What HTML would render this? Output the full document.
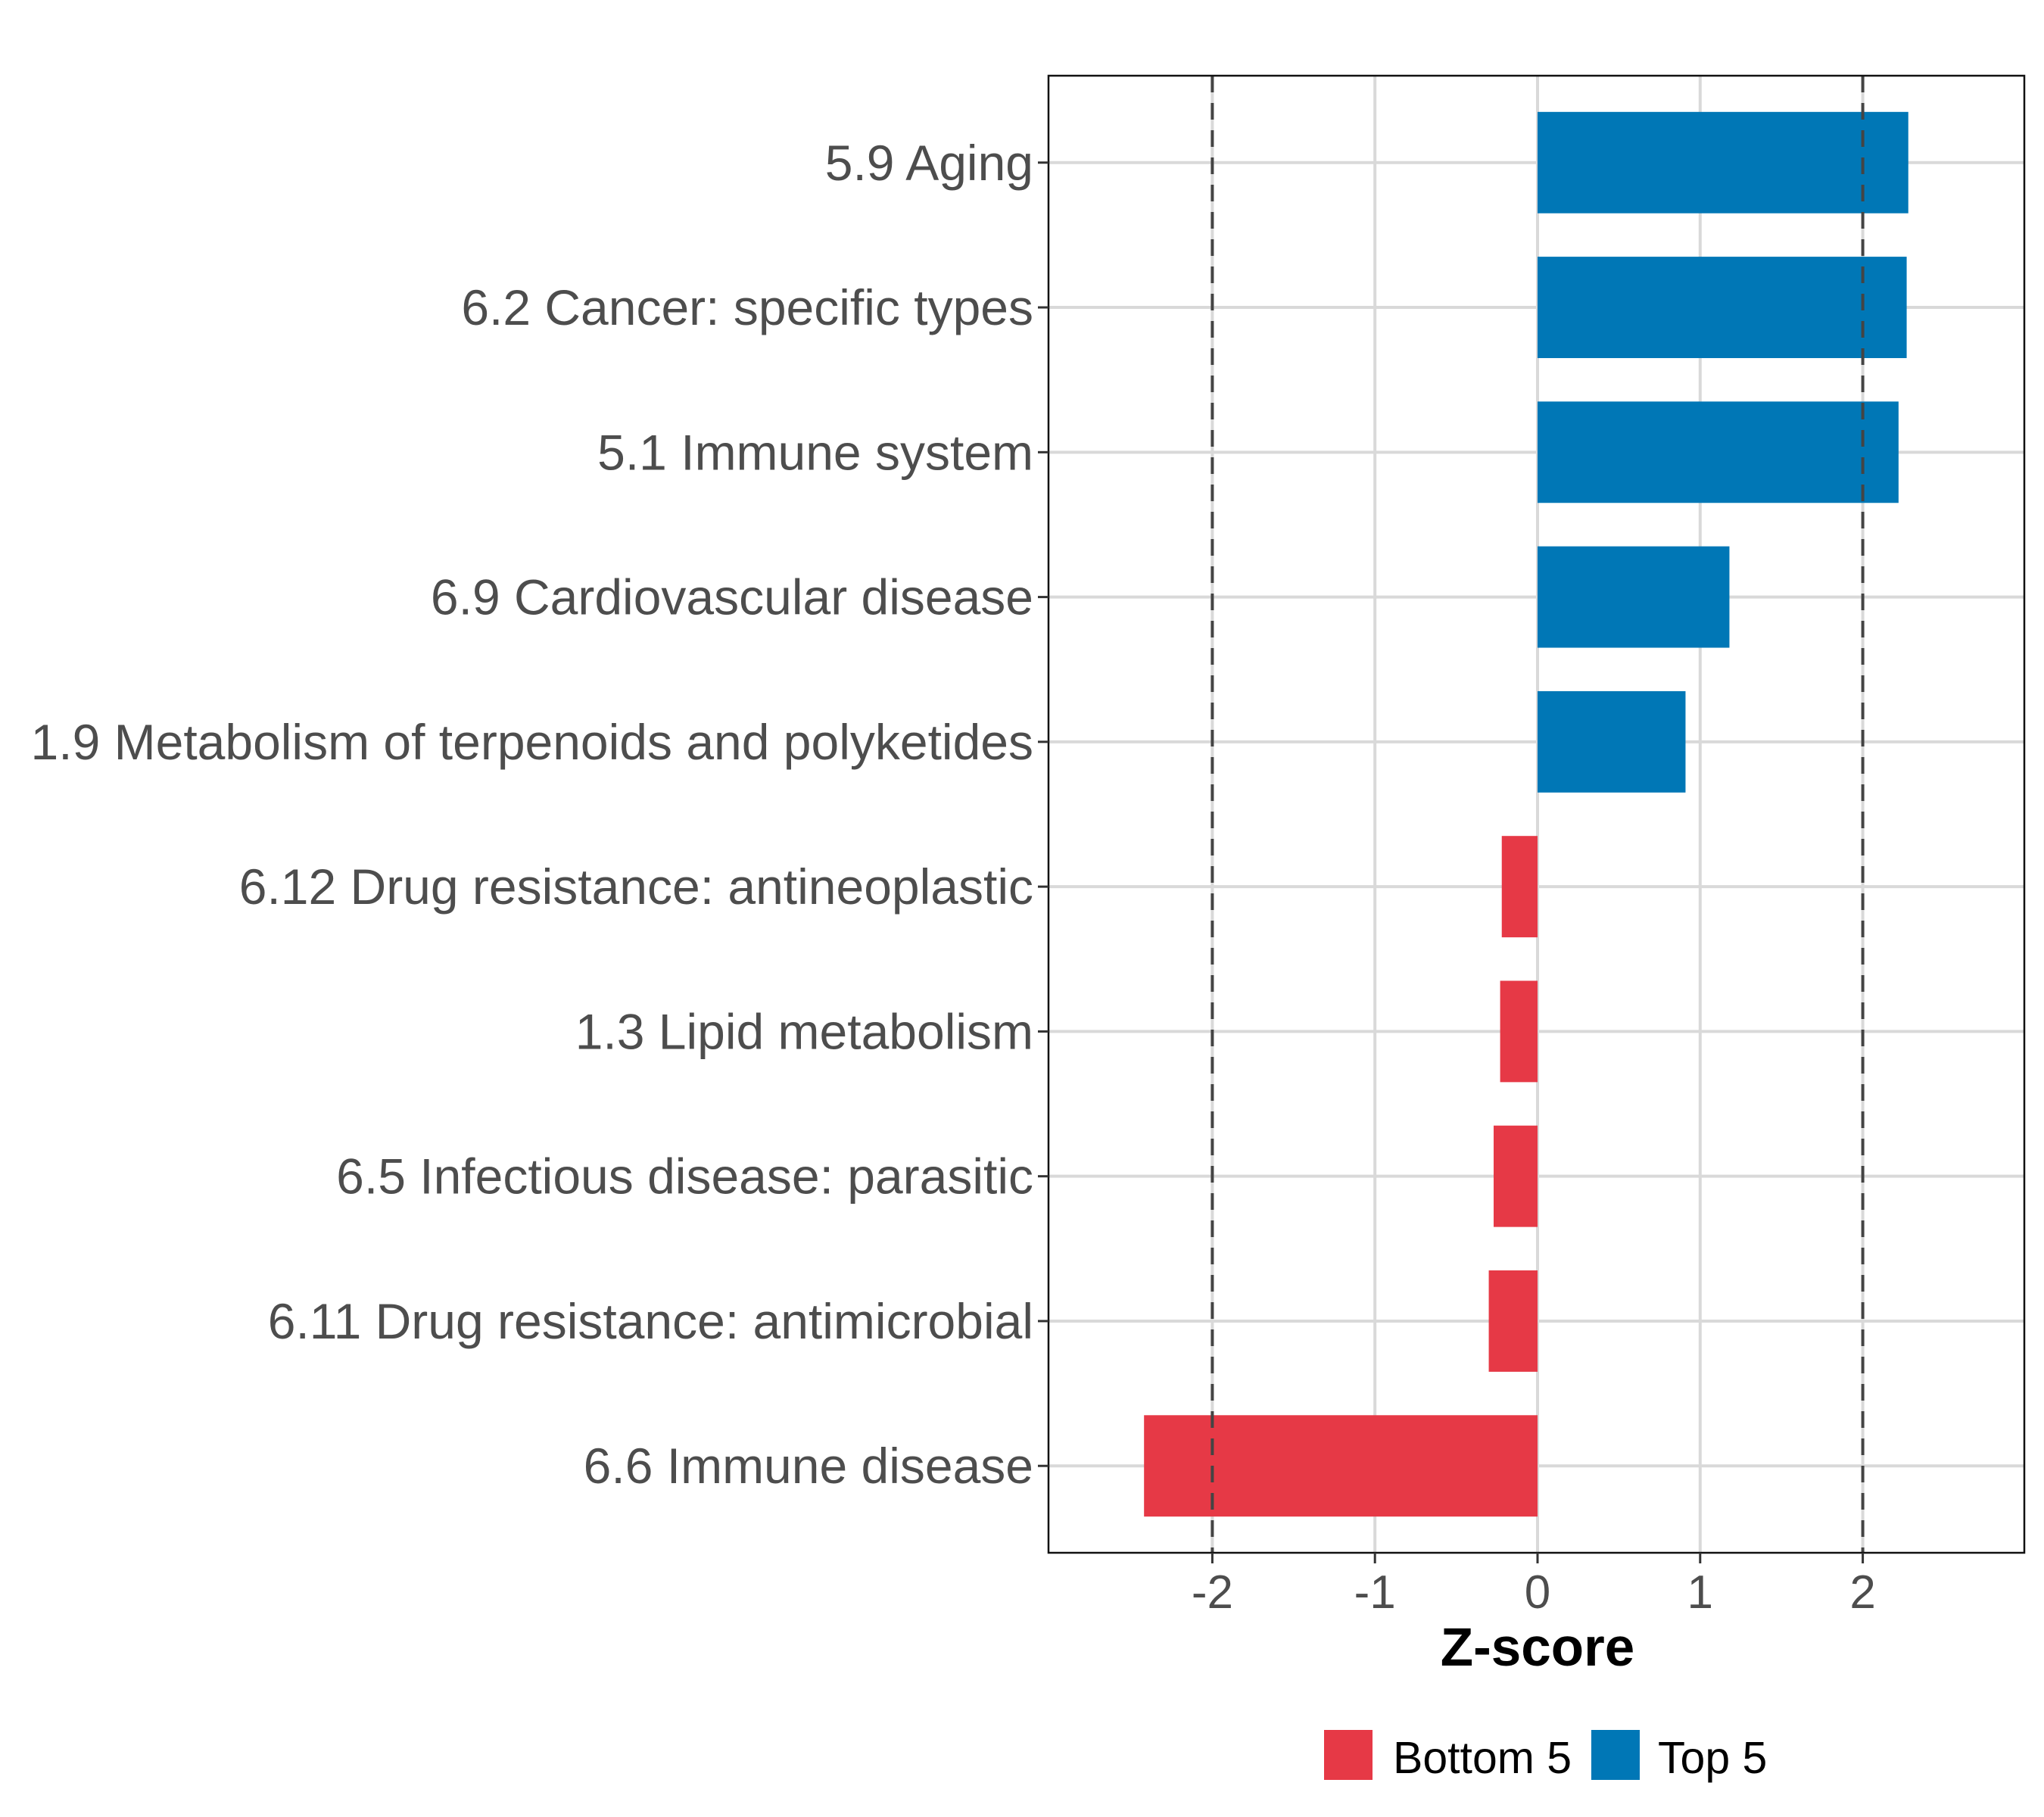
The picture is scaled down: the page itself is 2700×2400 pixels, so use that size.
<!DOCTYPE html>
<html><head><meta charset="utf-8"><style>
html,body{margin:0;padding:0;background:#fff;}
svg{display:block;font-family:"Liberation Sans",sans-serif;}
</style></head><body>
<svg id="chart" width="2700" height="2400" viewBox="0 0 2700 2400">
<g id="grid"></g>
<g id="bars"></g>
<g id="refs"></g>
<rect x="1385" y="100" width="1289" height="1951" fill="none" stroke="#111" stroke-width="2.5"/>
<g id="yaxis"></g>
<g id="xaxis"></g>
<text x="2031" y="2200" text-anchor="middle" font-size="71" font-weight="bold" fill="#000">Z-score</text>
<g>
<rect x="1749" y="2285" width="64" height="66" fill="#E63946"/>
<text x="1840" y="2342" font-size="59" fill="#000">Bottom 5</text>
<rect x="2102" y="2285" width="64" height="66" fill="#0077B6"/>
<text x="2190" y="2342" font-size="59" fill="#000">Top 5</text>
</g>
</svg>
<script>
const categories = ["5.9 Aging","6.2 Cancer: specific types","5.1 Immune system","6.9 Cardiovascular disease","1.9 Metabolism of terpenoids and polyketides","6.12 Drug resistance: antineoplastic","1.3 Lipid metabolism","6.5 Infectious disease: parasitic","6.11 Drug resistance: antimicrobial","6.6 Immune disease"];
const zscores = [2.28,2.27,2.22,1.18,0.91,-0.22,-0.23,-0.27,-0.30,-2.42];
const groups = ["Top 5","Top 5","Top 5","Top 5","Top 5","Bottom 5","Bottom 5","Bottom 5","Bottom 5","Bottom 5"];
const xTicks = [-2,-1,0,1,2];
const xTickLabels = ["-2","-1","0","1","2"];
const refLines = [-2,2];

const NS="http://www.w3.org/2000/svg";
const L=1385,R=2674,T=100,B=2051;
const x0=2031,unit=214.8;
function xs(v){return x0+v*unit;}
const step=(B-T)/(categories.length-1+1.2);
function ys(i){return T+step*0.6+i*step;}
const bh=step*0.7;
function mk(tag,attrs,parent){const e=document.createElementNS(NS,tag);for(const k in attrs)e.setAttribute(k,attrs[k]);parent.appendChild(e);return e;}
const grid=document.getElementById('grid'),bars=document.getElementById('bars'),refs=document.getElementById('refs'),ya=document.getElementById('yaxis'),xa=document.getElementById('xaxis');
xTicks.forEach((t,i)=>{
  const g=mk('line',{x1:xs(t),x2:xs(t),y1:T,y2:B,stroke:'#d9d9d9','stroke-width':4},grid);
  
  
  const tk=mk('line',{x1:xs(t),x2:xs(t),y1:B,y2:B+14,stroke:'#333','stroke-width':3},xa);
  
  
  const tl=mk('text',{x:xs(t),y:2124,'text-anchor':'middle','font-size':62,fill:'#4d4d4d'},xa);
  tl.textContent=xTickLabels[i];
  
  
});
categories.forEach((c,i)=>{
  const y=ys(i);
  const g=mk('line',{x1:L,x2:R,y1:y,y2:y,stroke:'#d9d9d9','stroke-width':4},grid);
  
  
  const v=zscores[i];
  const b=mk('rect',{x:Math.min(xs(0),xs(v)),y:y-bh/2,width:Math.abs(xs(v)-xs(0)),height:bh,fill:groups[i]==='Top 5'?'#0077B6':'#E63946'},bars);
  
  
  const tk=mk('line',{x1:L-14,x2:L,y1:y,y2:y,stroke:'#333','stroke-width':3},ya);
  
  
  const tl=mk('text',{x:L-20,y:y+23,'text-anchor':'end','font-size':66,fill:'#4d4d4d'},ya);
  tl.textContent=c;
  
  
});
refLines.forEach(r=>{
  const l=mk('line',{x1:xs(r),x2:xs(r),y1:T,y2:B,stroke:'#444','stroke-width':4,'stroke-dasharray':'22 14'},refs);
  
  
});
</script>
</body></html>
